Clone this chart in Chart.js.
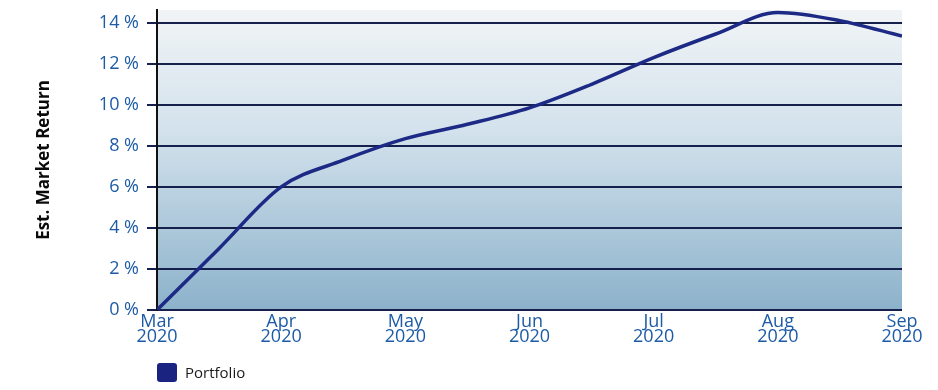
<!DOCTYPE html>
<html>
<head>
<meta charset="utf-8">
<script src="https://cdn.jsdelivr.net/npm/chart.js@4"></script>
<style>
  html, body { margin: 0; padding: 0; background: #ffffff; }
  #wrap { position: relative; width: 938px; height: 390px; }
  #legend {
    position: absolute; left: 157px; top: 362px;
    display: flex; align-items: center;
    font-family: "Open Sans", sans-serif; font-size: 15px; color: #1b1b1b;
  }
  #legend .swatch {
    width: 20px; height: 19px; border-radius: 3px; background: #1a2380; margin-right: 8px;
  }
</style>
</head>
<body>
<div id="wrap">
  <canvas id="chart" width="938" height="390"></canvas>
  <div id="legend"><span class="swatch"></span><span>Portfolio</span></div>
</div>
<script>
const monthLabels = ["Mar", "Apr", "May", "Jun", "Jul", "Aug", "Sep"];
const yearLabel = "2020";
// position in months since Mar 2020
const pointMonths = [0, 0.5, 1, 1.5, 2, 2.5, 3, 3.5, 4, 4.5, 5, 5.5, 6];
const portfolioReturn = [0, 3.0, 6.0, 7.3, 8.35, 9.05, 9.85, 11.0, 12.3, 13.45, 14.5, 14.1, 13.35];
const yTicks = [0, 2, 4, 6, 8, 10, 12, 14];

const navy = "#1c2a86";
const tickBlue = "#1d5ba6";

const areaGradient = {
  id: "areaGradient",
  beforeDraw(chart) {
    const { ctx, chartArea } = chart;
    if (!chartArea) return;
    const g = ctx.createLinearGradient(0, chartArea.top, 0, chartArea.bottom);
    g.addColorStop(0, "#f1f4f6");
    g.addColorStop(0.4, "#d3e2ec");
    g.addColorStop(1, "#8cb2cb");
    ctx.save();
    ctx.fillStyle = g;
    ctx.fillRect(chartArea.left, chartArea.top, chartArea.right - chartArea.left, chartArea.bottom - chartArea.top);
    ctx.restore();
  }
};

new Chart(document.getElementById("chart"), {
  type: "line",
  data: {
    datasets: [
      {
        label: "Portfolio",
        data: pointMonths.map((m, i) => ({ x: m, y: portfolioReturn[i] })),
        borderColor: navy,
        borderWidth: 3.5,
        pointRadius: 0,
        tension: 0.4,
        cubicInterpolationMode: "monotone",
        fill: false
      }
    ]
  },
  options: {
    responsive: false,
    animation: false,
    layout: { padding: { top: 10, right: 36, left: 0, bottom: 0 } },
    plugins: {
      legend: { display: false },
      tooltip: { enabled: false }
    },
    scales: {
      x: {
        type: "linear",
        min: 0,
        max: 6,
        afterFit: (s) => { s.height = 80; },
        afterBuildTicks: (s) => { s.ticks = monthLabels.map((_, i) => ({ value: i })); },
        grid: { display: false, drawTicks: false },
        border: { display: false },
        ticks: {
          color: tickBlue,
          padding: 5,
          maxRotation: 0,
          autoSkip: false,
          font: { family: "Open Sans", size: 18, lineHeight: 0.8 },
          callback: (v) => [monthLabels[v], yearLabel]
        }
      },
      y: {
        min: 0,
        max: 14.62,
        afterFit: (s) => { s.width = 157; s.paddingTop = 0; s.paddingBottom = 0; },
        afterBuildTicks: (s) => { s.ticks = yTicks.map((v) => ({ value: v })); },
        grid: { color: "#15204c", lineWidth: 2, tickLength: 10 },
        border: { display: true, color: "#111111", width: 2 },
        ticks: {
          color: tickBlue,
          padding: 8,
          font: { family: "Open Sans", size: 18 },
          callback: (v) => v + " %"
        },
        title: {
          display: true,
          text: "Est. Market Return",
          color: "#0a0a0a",
          padding: { top: 34, bottom: 0 },
          font: { family: "Open Sans", size: 17, weight: "bold" }
        }
      }
    }
  },
  plugins: [areaGradient]
});
</script>
</body>
</html>
